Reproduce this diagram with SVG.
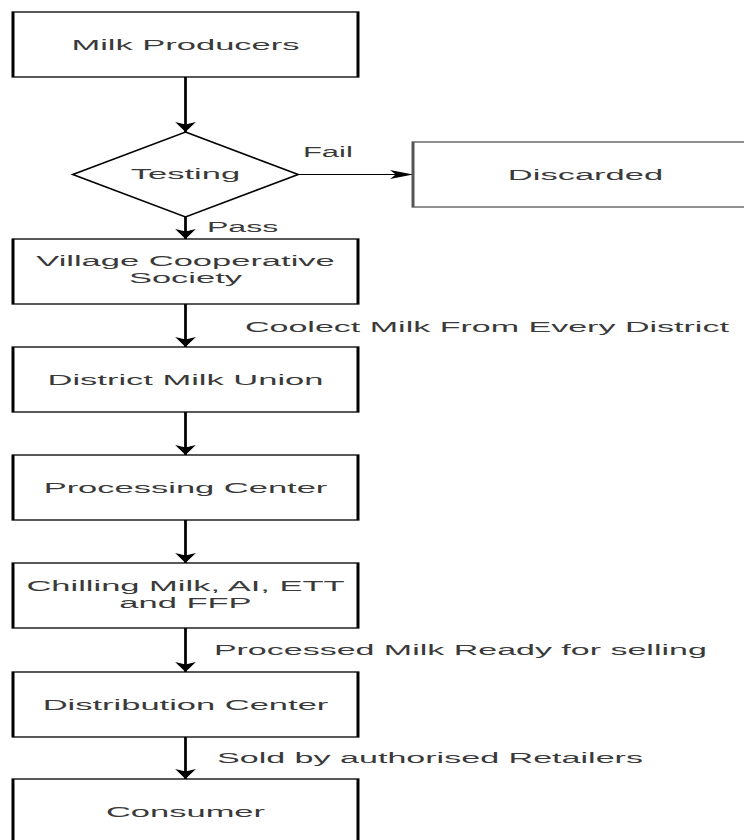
<svg xmlns="http://www.w3.org/2000/svg" width="744" height="840" viewBox="0 0 744 840">
  <defs>
    <marker id="arrow" viewBox="0 0 10 10" refX="10" refY="5" markerWidth="10" markerHeight="10" markerUnits="userSpaceOnUse" orient="auto">
      <path d="M0,0.5 L10,5 L0,9.5 L2.5,5 Z" fill="#000"/>
    </marker>
    <style>
      .box { fill: #fff; stroke: #000; stroke-width: 1.3; }
      .box.grey { stroke: #555; }
      .t { font-family: "Liberation Sans", Arial, sans-serif; font-size: 15px; fill: #3a3a3a; }
      .c { text-anchor: middle; }
      .edge { fill: none; stroke: #000; stroke-width: 1.2; marker-end: url(#arrow); }
    </style>
  </defs>
  <rect width="744" height="840" fill="#fff"/>
  <g transform="scale(2.3 1)">
    <g id="connectors">
      <path class="edge" d="M80.65,77 L80.65,132"/>
      <path class="edge" d="M129.65,174.5 L179.57,174.5"/>
      <path class="edge" d="M80.65,217 L80.65,239"/>
      <path class="edge" d="M80.65,304 L80.65,347"/>
      <path class="edge" d="M80.65,412 L80.65,455"/>
      <path class="edge" d="M80.65,520 L80.65,563"/>
      <path class="edge" d="M80.65,628 L80.65,672"/>
      <path class="edge" d="M80.65,737 L80.65,779"/>
      <text class="t" x="131.7" y="157" textLength="21.7" lengthAdjust="spacingAndGlyphs">Fail</text>
      <text class="t" x="90" y="232" textLength="31" lengthAdjust="spacingAndGlyphs">Pass</text>
      <text class="t" x="106.5" y="332" textLength="210.4" lengthAdjust="spacingAndGlyphs">Coolect Milk From Every District</text>
      <text class="t" x="93" y="655" textLength="214.3" lengthAdjust="spacingAndGlyphs">Processed Milk Ready for selling</text>
      <text class="t" x="94.35" y="763" textLength="185.2" lengthAdjust="spacingAndGlyphs">Sold by authorised Retailers</text>
    </g>
    <g id="milk-producers">
      <rect class="box" x="5.65" y="12" width="150" height="65"/>
      <text class="t c" x="80.65" y="50">Milk Producers</text>
    </g>
    <g id="testing">
      <path class="box" d="M80.65,132 L129.65,174.5 L80.65,217 L31.65,174.5 Z"/>
      <text class="t c" x="80.65" y="179.5">Testing</text>
    </g>
    <g id="discarded">
      <rect class="box grey" x="179.57" y="142" width="150" height="65"/>
      <text class="t c" x="254.57" y="180">Discarded</text>
    </g>
    <g id="village-cooperative-society">
      <rect class="box" x="5.65" y="239" width="150" height="65"/>
      <text class="t c" x="80.65" y="266">Village Cooperative</text>
      <text class="t c" x="80.65" y="283">Society</text>
    </g>
    <g id="district-milk-union">
      <rect class="box" x="5.65" y="347" width="150" height="65"/>
      <text class="t c" x="80.65" y="385">District Milk Union</text>
    </g>
    <g id="processing-center">
      <rect class="box" x="5.65" y="455" width="150" height="65"/>
      <text class="t c" x="80.65" y="493">Processing Center</text>
    </g>
    <g id="chilling">
      <rect class="box" x="5.65" y="563" width="150" height="65"/>
      <text class="t c" x="80.65" y="591">Chilling Milk, AI, ETT</text>
      <text class="t c" x="80.65" y="608">and FFP</text>
    </g>
    <g id="distribution-center">
      <rect class="box" x="5.65" y="672" width="150" height="65"/>
      <text class="t c" x="80.65" y="710">Distribution Center</text>
    </g>
    <g id="consumer">
      <rect class="box" x="5.65" y="779" width="150" height="66"/>
      <text class="t c" x="80.65" y="817.5">Consumer</text>
    </g>
  </g>
</svg>
